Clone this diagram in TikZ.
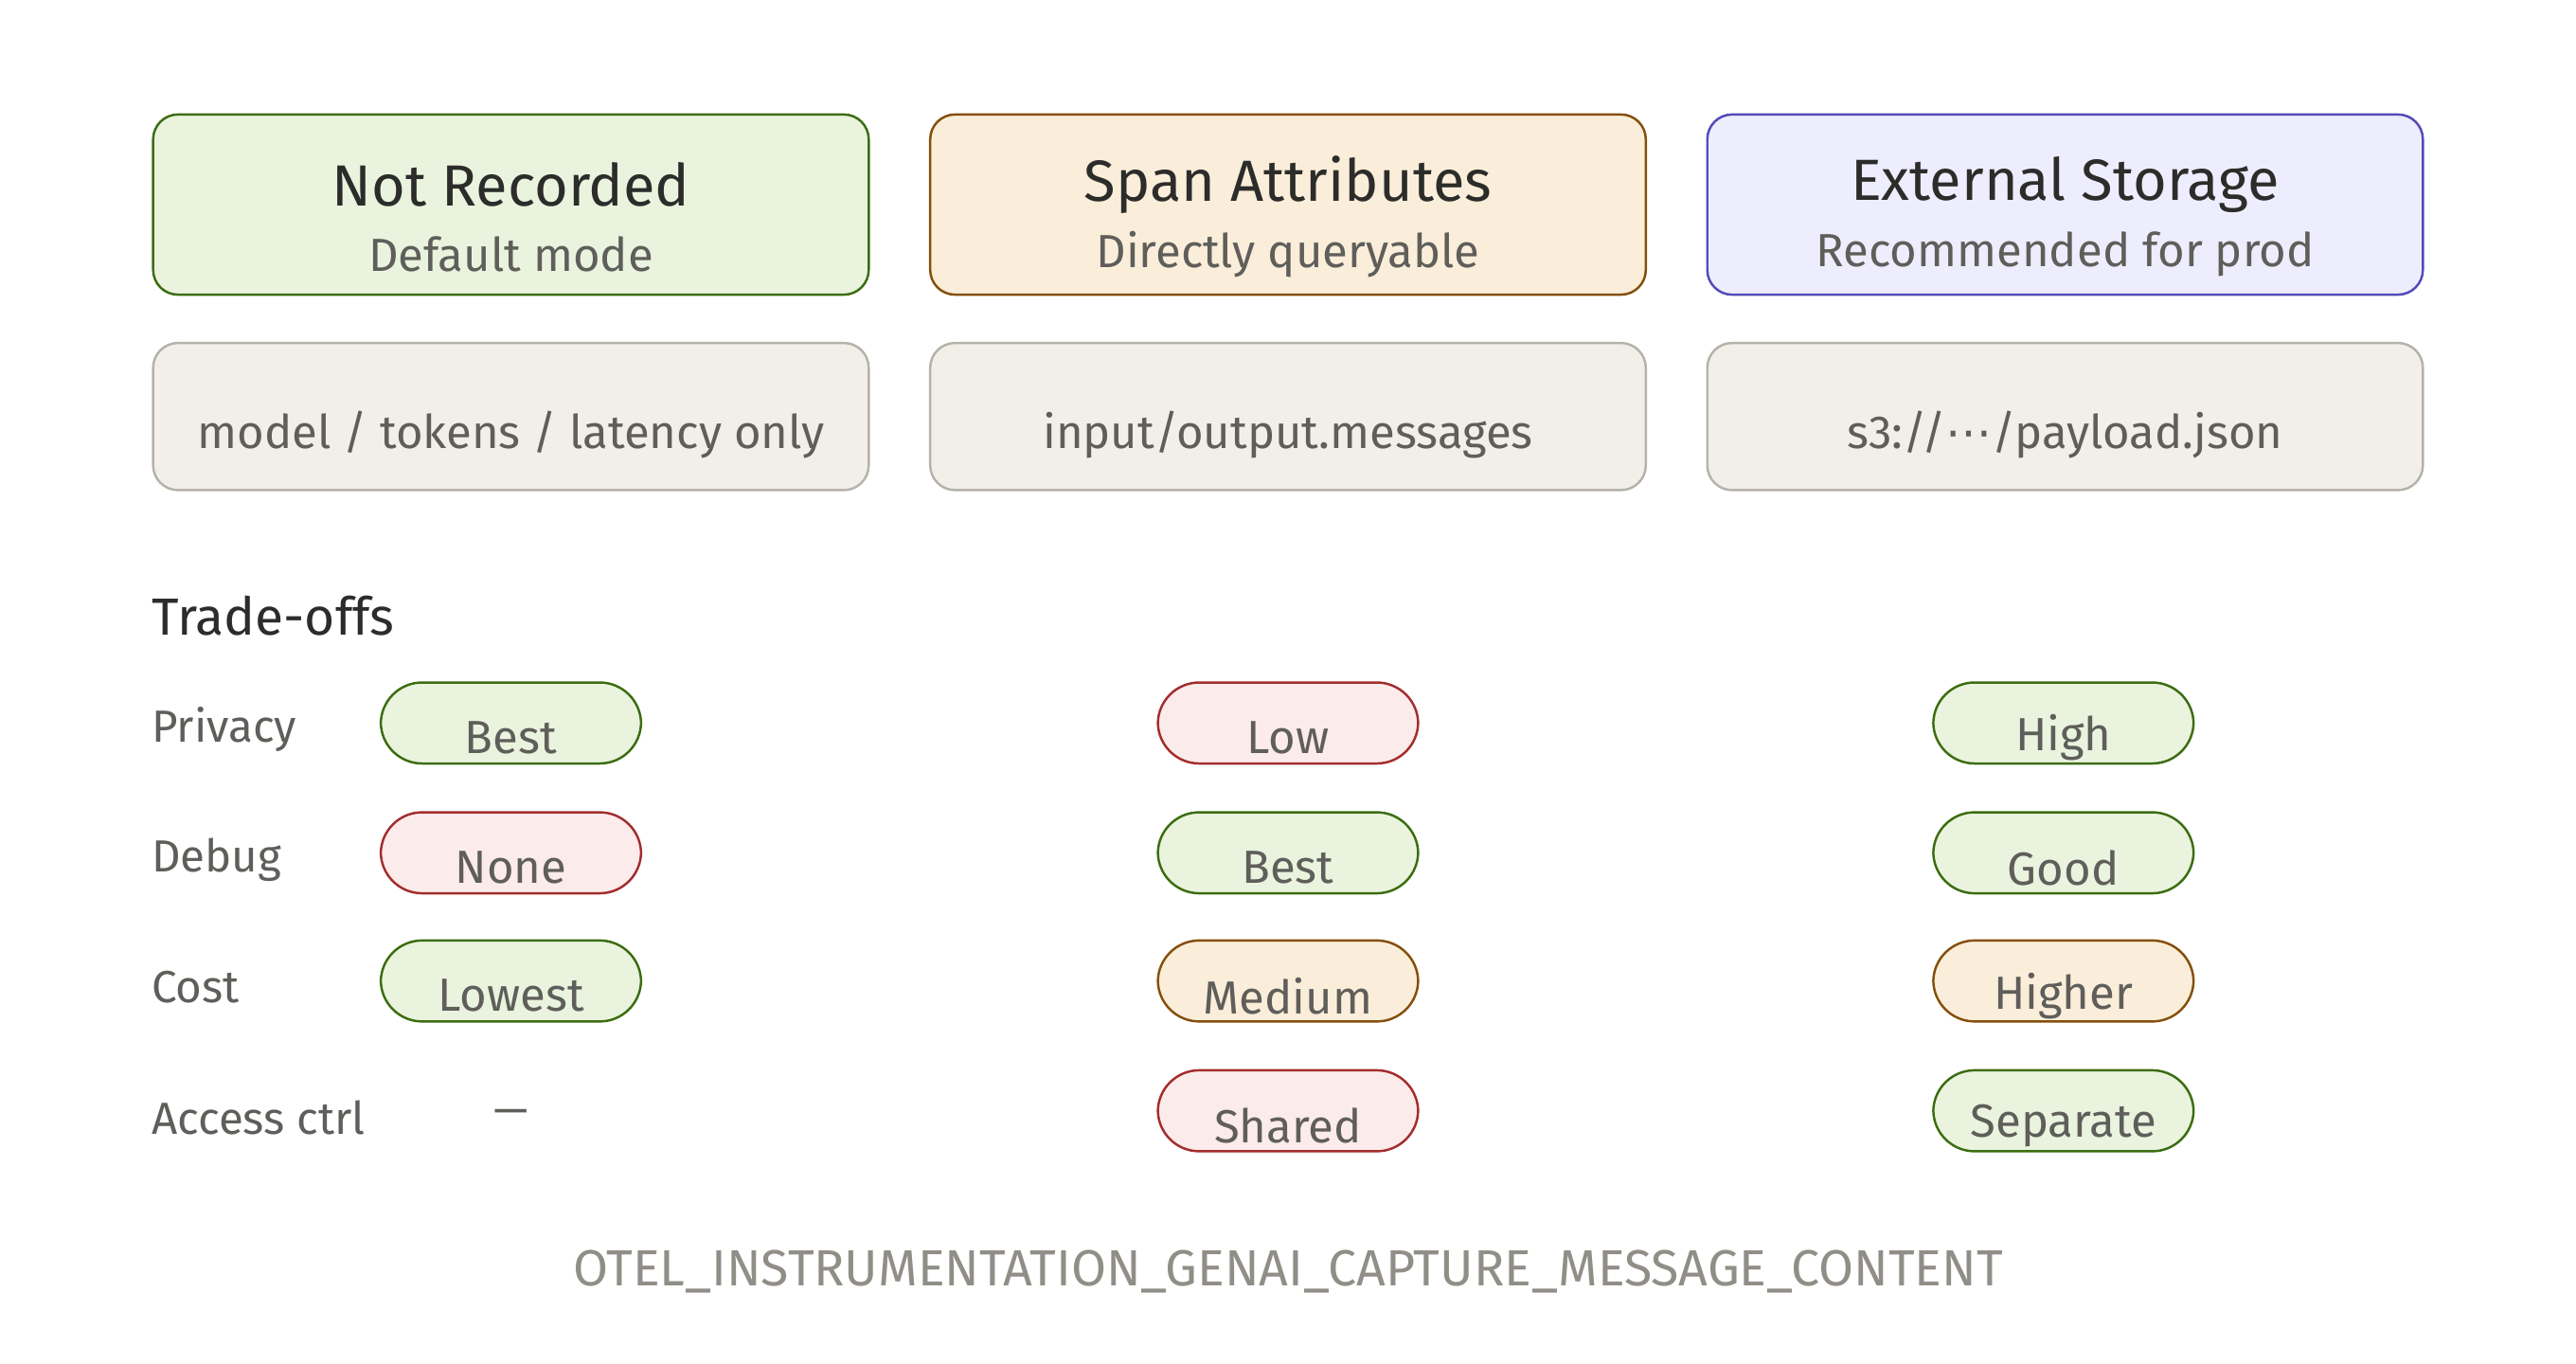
\documentclass[tikz,border=0pt]{standalone}
\usepackage{fontspec}
\setmainfont{Fira Sans}
\newfontfamily\symfont{DejaVu Sans}
\usetikzlibrary{positioning}
\definecolor{ink}{HTML}{2C2C2A}
\definecolor{subink}{HTML}{5F5E5A}
\definecolor{green fill}{HTML}{EAF3DE}
\definecolor{green line}{HTML}{3B6D11}
\definecolor{amber fill}{HTML}{FAEEDA}
\definecolor{amber line}{HTML}{854F0B}
\definecolor{violet fill}{HTML}{EEEDFE}
\definecolor{violet line}{HTML}{534AB7}
\definecolor{grey fill}{HTML}{F1EFE8}
\definecolor{grey line}{HTML}{B4B2A9}
\definecolor{red fill}{HTML}{FCEBEB}
\definecolor{red line}{HTML}{A32D2D}
\tikzset{
  modebox/.style={draw, line width=0.8pt, outer sep=0pt, rounded corners=0.3cm, minimum width=8.66cm, minimum height=2.18cm},
  valuebox/.style={modebox, draw=grey line, fill=grey fill, minimum height=1.78cm},
  pill/.style={draw, line width=0.8pt, rounded corners=0.5cm, minimum width=3.15cm, minimum height=0.98cm},
  good/.style={pill, draw=green line, fill=green fill},
  mid/.style={pill, draw=amber line, fill=amber fill},
  bad/.style={pill, draw=red line, fill=red fill},
  rowlabel/.style={anchor=west, inner sep=0pt, text=subink, font=\fontsize{15.5}{18}\selectfont}
}
\begin{document}
\begin{tikzpicture}[x=0.01988cm, y=-0.01988cm]
\useasboundingbox (0,0) rectangle (1568,830);

% Modes
\node (notrec) at (311,124.5) [modebox, draw=green line, fill=green fill] {};
\node (spanattr) at (784,124.5) [modebox, draw=amber line, fill=amber fill] {};
\node (extstore) at (1257,124.5) [modebox, draw=violet line, fill=violet fill] {};
\foreach \n/\t/\s in {notrec/Not Recorded/Default mode, spanattr/Span Attributes/Directly queryable, extstore/External Storage/Recommended for prod} {
  \node at ([yshift=0.24cm]\n.center) [text=ink, font=\fontsize{20}{24}\selectfont] {\t};
  \node at ([yshift=-0.6cm]\n.center) [text=subink, font=\fontsize{16}{19}\selectfont] {\s};
}

% What is kept
\node (notrecval) at (311,253.5) [valuebox] {};
\node (spanattrval) at (784,253.5) [valuebox] {};
\node (extstoreval) at (1257,253.5) [valuebox] {};
\foreach \n/\t in {notrecval/{model / tokens / latency only}, spanattrval/{input/output.messages}, extstoreval/{s3://{\symfont\char"22EF}/payload.json}} {
  \node at ([yshift=-0.22cm]\n.center) [text=subink, font=\fontsize{16}{19}\selectfont] {\t};
}

% Trade-offs
\node (tradeoffs) at (92,375) [anchor=west, inner sep=0pt, text=ink, font=\fontsize{18}{21}\selectfont] {Trade-offs};
\foreach \l/\y in {Privacy/444, Debug/523, Cost/601, Access ctrl/680} {
  \node at (92,\y) [rowlabel] {\l};
}
\foreach \x/\y/\s/\t in {311/440/good/Best, 311/519/bad/None, 311/597/good/Lowest,
    784/440/bad/Low, 784/519/good/Best, 784/597/mid/Medium, 784/676/bad/Shared,
    1256/440/good/High, 1256/519/good/Good, 1256/597/mid/Higher, 1256/676/good/Separate} {
  \node at (\x,\y) [\s] {};
  \node at (\x,\y+9) [text=subink, font=\fontsize{16}{19}\selectfont] {\t};
}
\node (noaccess) at (311,680) [text=subink, font=\fontsize{15}{18}\selectfont] {—};

% Setting
\node (envvar) at (784,774) [text=grey line!80!black, font=\fontsize{17.5}{20}\selectfont] {OTEL\_INSTRUMENTATION\_GENAI\_CAPTURE\_MESSAGE\_CONTENT};
\end{tikzpicture}
\end{document}
